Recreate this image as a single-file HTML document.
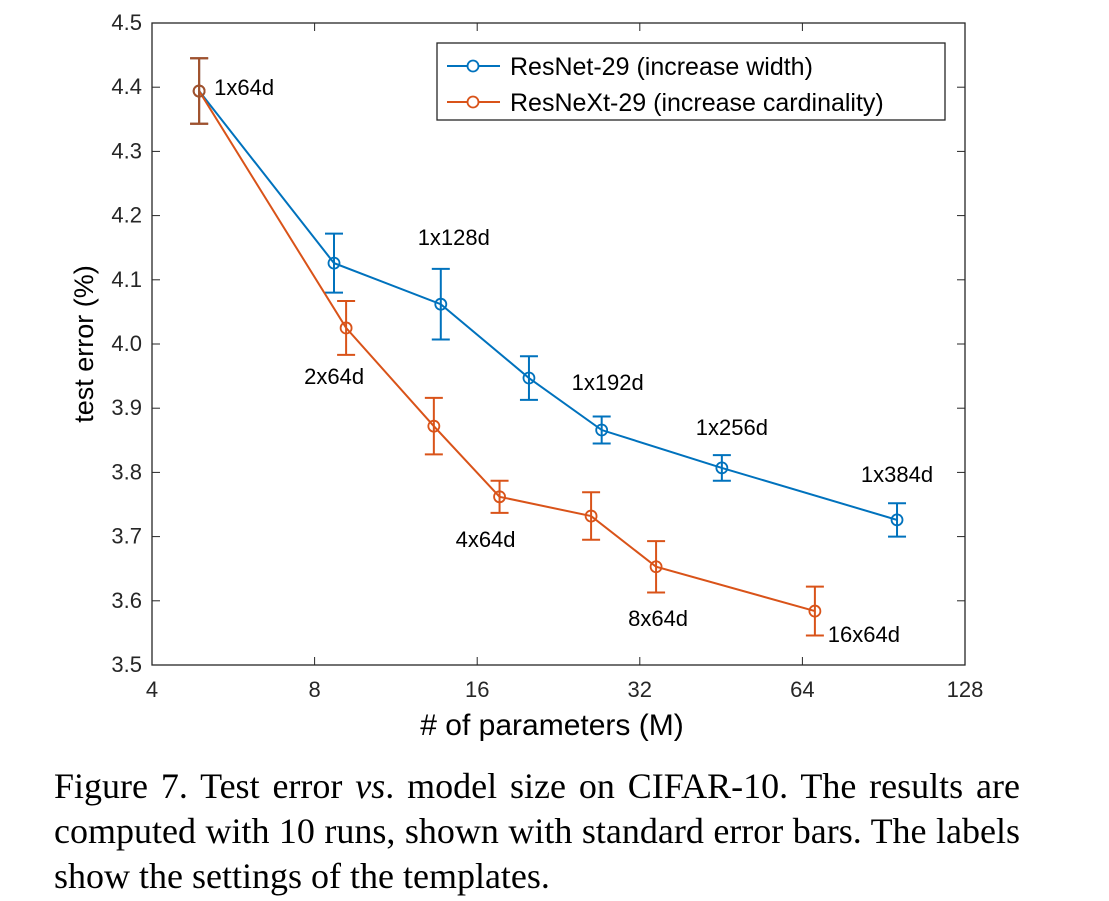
<!DOCTYPE html>
<html><head><meta charset="utf-8"><style>
body{margin:0;background:#fff;width:1109px;height:901px;overflow:hidden}
svg text{font-family:"Liberation Sans",sans-serif}
.cap{position:absolute;left:54px;top:764px;font-family:"Liberation Serif",serif;font-size:36px;line-height:45px;color:#000;width:966px}
.cap div{text-align:justify;text-align-last:justify;white-space:nowrap}
.cap div.last{text-align-last:left}
</style></head><body>
<svg width="1109" height="760" style="position:absolute;left:0;top:0" id="chart"></svg>
<div class="cap">
<div>Figure 7. Test error <i>vs</i>. model size on CIFAR-10. The results are</div>
<div>computed with 10 runs, shown with standard error bars. The labels</div>
<div class="last">show the settings of the templates.</div>
</div>
<script>
const resnetX=[4.89,8.69,13.7,19.95,27.2,45.4,95.8];
const resnetY=[4.394,4.126,4.062,3.947,3.866,3.807,3.726];
const resnetErr=[0.051,0.046,0.055,0.034,0.021,0.02,0.026];
const resnetLabels=["1x64d","","1x128d","","1x192d","1x256d","1x384d"];
const resnextX=[4.89,9.15,13.3,17.6,26.0,34.3,67.5];
const resnextY=[4.394,4.025,3.872,3.762,3.732,3.653,3.584];
const resnextErr=[0.051,0.042,0.044,0.025,0.037,0.04,0.038];
const resnextLabels=["","2x64d","","4x64d","","8x64d","16x64d"];
const xTicks=[4,8,16,32,64,128];
const yTicks=[3.5,3.6,3.7,3.8,3.9,4.0,4.1,4.2,4.3,4.4,4.5];
const L=152,R=965,T=23,B=665;
const sx=v=>L+(Math.log2(v)-2)/5*(R-L);
const sy=v=>B-(v-3.5)/1.0*(B-T);
const svg=document.getElementById('chart');
const NS='http://www.w3.org/2000/svg';
function mk(tag,attrs,parent){const e=document.createElementNS(NS,tag);for(const k in attrs)e.setAttribute(k,attrs[k]);(parent||svg).appendChild(e);return e;}
let e;
e=mk('rect',{x:L,y:T,width:R-L,height:B-T,fill:'none',stroke:'#262626','stroke-width':1.3});


xTicks.forEach(t=>{const x=sx(t);
mk('line',{x1:x,x2:x,y1:B,y2:B-8,stroke:'#262626'});mk('line',{x1:x,x2:x,y1:T,y2:T+8,stroke:'#262626'});
e=mk('text',{x:x,y:B+32,'text-anchor':'middle','font-size':22,fill:'#262626'});e.textContent=t;

});
yTicks.forEach(t=>{const y=sy(t);
mk('line',{x1:L,x2:L+8,y1:y,y2:y,stroke:'#262626'});mk('line',{x1:R,x2:R-8,y1:y,y2:y,stroke:'#262626'});
e=mk('text',{x:L-10,y:y+7,'text-anchor':'end','font-size':22,fill:'#262626'});e.textContent=t.toFixed(1);

});
e=mk('text',{x:552,y:735,'text-anchor':'middle','font-size':30,fill:'#000'});e.textContent='# of parameters (M)';


e=mk('text',{x:0,y:0,'text-anchor':'middle','font-size':27,fill:'#000',transform:'translate(93,344) rotate(-90)'});e.textContent='test error (%)';


function series(xs,ys,er,labels,color,name,offs){
const g=mk('g',{});


mk('polyline',{points:xs.map((x,i)=>sx(x)+','+sy(ys[i])).join(' '),fill:'none',stroke:color,'stroke-width':2},g);
xs.forEach((x,i)=>{const cx=sx(x),cy=sy(ys[i]),t=sy(ys[i]+er[i]),b=sy(ys[i]-er[i]);
mk('line',{x1:cx,x2:cx,y1:t,y2:b,stroke:color,'stroke-width':2},g);
mk('line',{x1:cx-9,x2:cx+9,y1:t,y2:t,stroke:color,'stroke-width':2},g);
mk('line',{x1:cx-9,x2:cx+9,y1:b,y2:b,stroke:color,'stroke-width':2},g);
const c=mk('circle',{cx:cx,cy:cy,r:5.5,fill:'none',stroke:color,'stroke-width':1.8},g);


if(labels[i]){const o=offs[i];const tx=mk('text',{x:cx+o[0],y:cy+o[1],'text-anchor':'middle','font-size':22,fill:'#000'},g);tx.textContent=labels[i];

}});}
series(resnetX,resnetY,resnetErr,resnetLabels,'#0072BD','resnet',[[45,4],[0,0],[13,-59],[0,0],[6,-40],[10,-33],[0,-38]]);
series(resnextX,resnextY,resnextErr,resnextLabels,'#D95319','resnext',[[0,0],[-12,56],[0,0],[-14,50],[0,0],[2,59],[49,31]]);
series([resnetX[0]],[resnetY[0]],[resnetErr[0]],[""],'#A0522D','overlap',[[0,0]]);
const lg=mk('g',{});


mk('rect',{x:437,y:43,width:508,height:77,fill:'#fff',stroke:'#262626','stroke-width':1.3},lg);
[['ResNet-29 (increase width)','#0072BD',66],['ResNeXt-29 (increase cardinality)','#D95319',102]].forEach(d=>{
mk('line',{x1:447,x2:500,y1:d[2],y2:d[2],stroke:d[1],'stroke-width':2},lg);
mk('circle',{cx:473,cy:d[2],r:5.5,fill:'#fff',stroke:d[1],'stroke-width':1.8},lg);
const t=mk('text',{x:510,y:d[2]+9,'font-size':25,fill:'#000'},lg);t.textContent=d[0];

});
</script>
</body></html>
